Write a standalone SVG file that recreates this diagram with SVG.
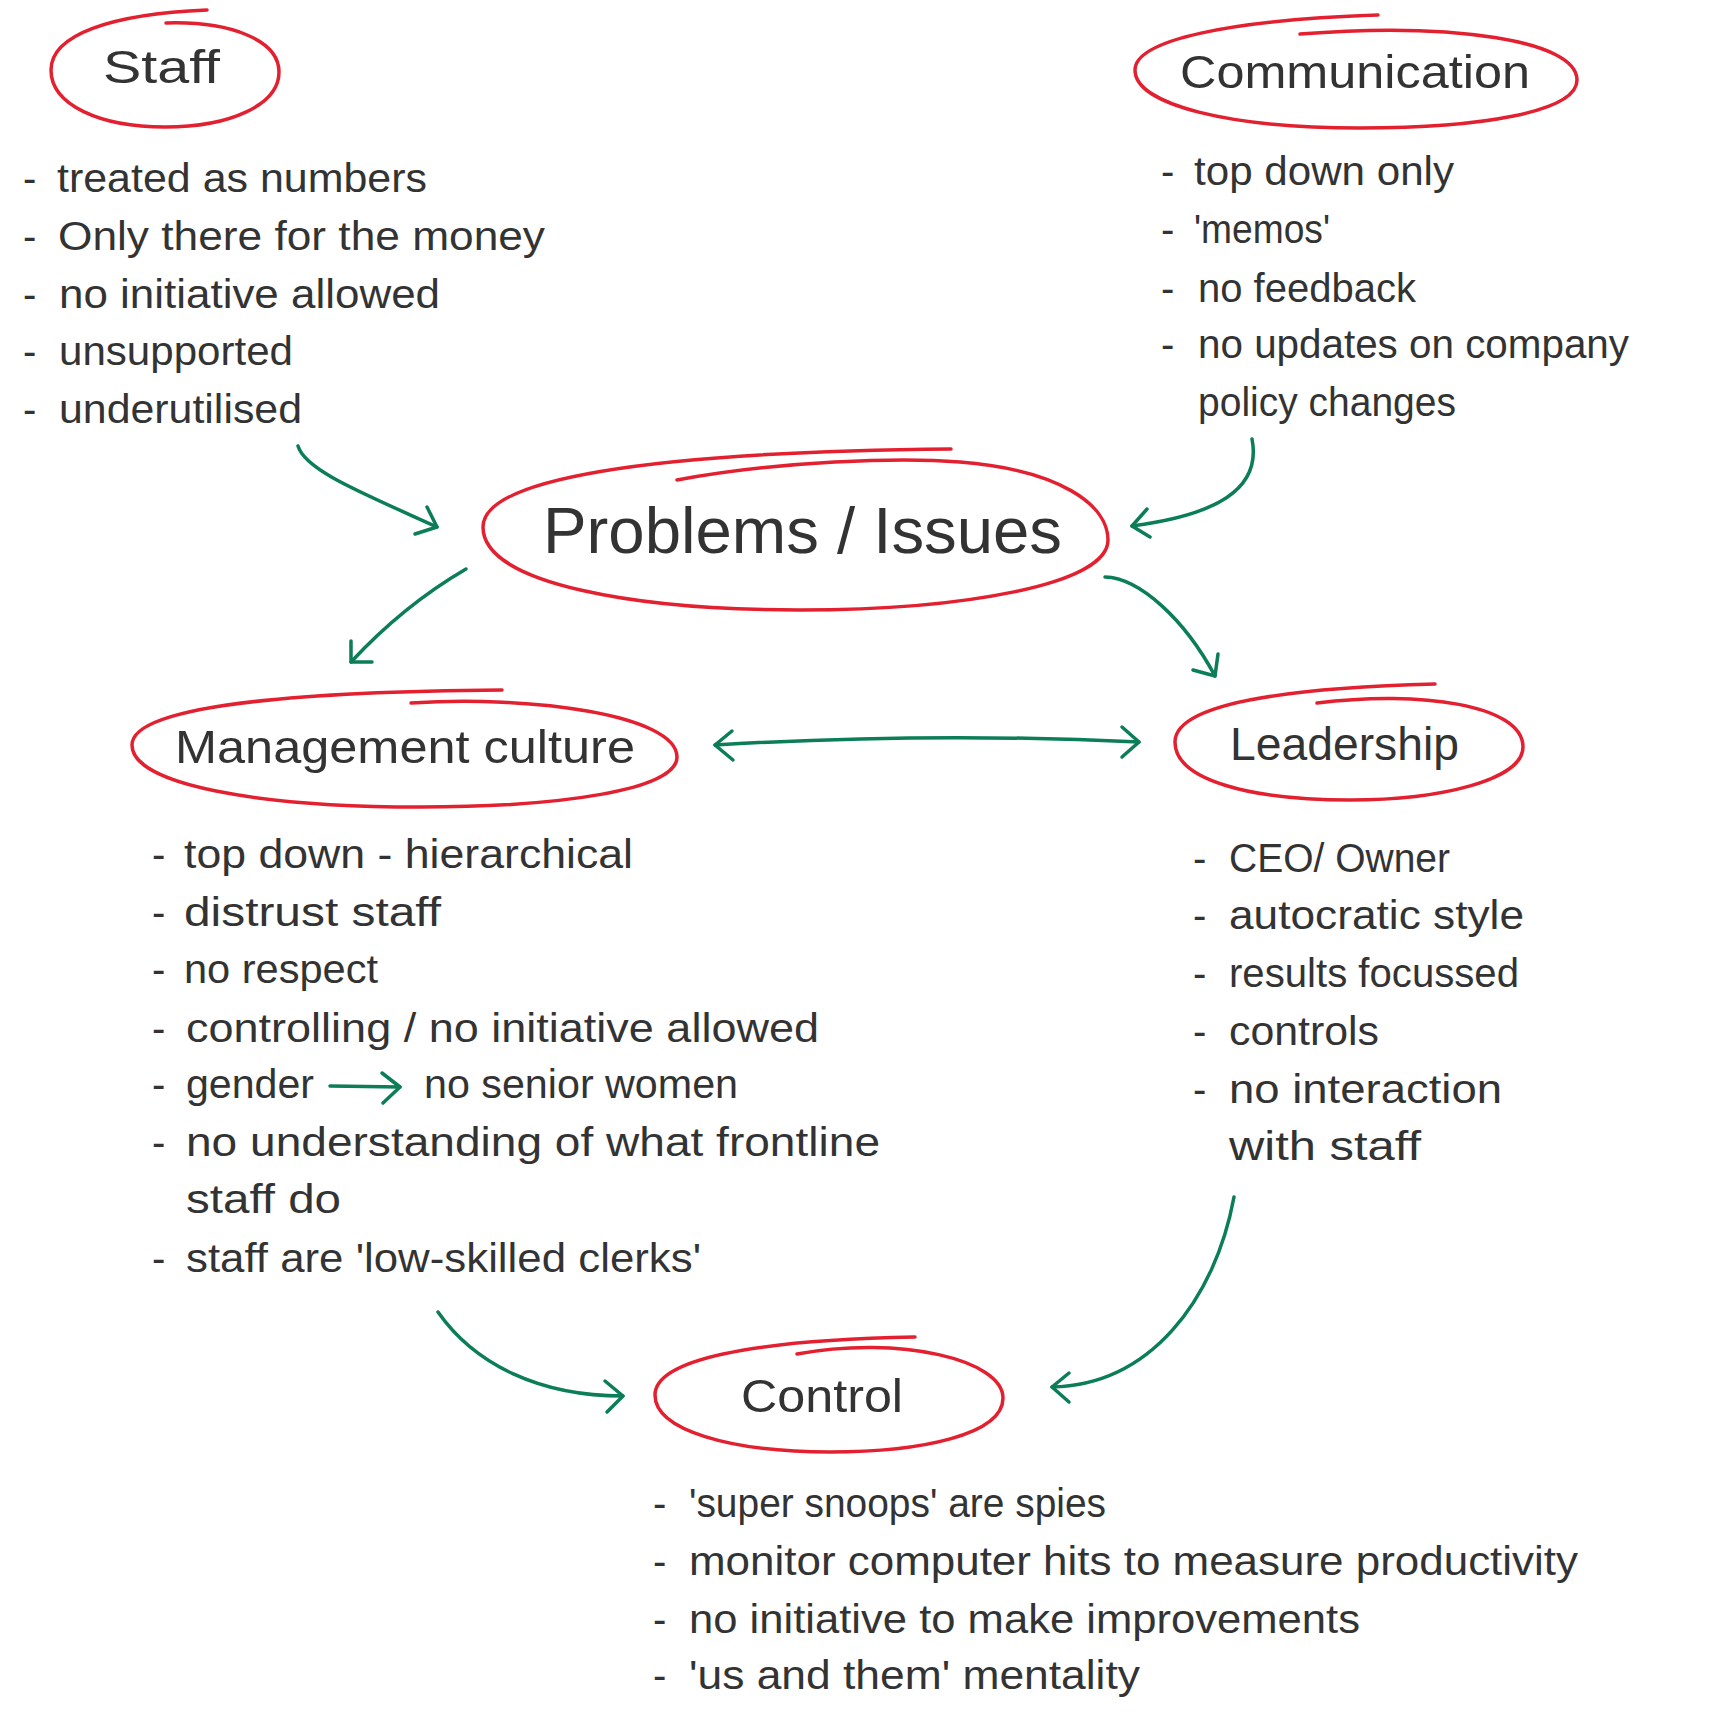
<svg xmlns="http://www.w3.org/2000/svg" width="1728" height="1736" viewBox="0 0 1728 1736">
<style>
.bg{fill:#ffffff}
.ring{fill:none;stroke:#e3202f;stroke-width:3.5;stroke-linecap:round;stroke-linejoin:round}
.arr{fill:none;stroke:#0b7d57;stroke-width:3.5;stroke-linecap:round;stroke-linejoin:round}
text{font-family:"Liberation Sans","Noto Sans",sans-serif;fill:#333333}
.h{font-size:46px}
.hb{font-size:64px}
.t{font-size:40px}
</style>
<rect class="bg" x="0" y="0" width="1728" height="1736"/>

<g id="node-staff">
<path class="ring" d="M166 23 C230 21 279 40 279 72 C279 105 230 127 165 127 C100 127 51 105 51 70 C51 35 110 14 207 10"/>
<text class="h" x="103" y="83" font-size="44" textLength="117" lengthAdjust="spacingAndGlyphs">Staff</text>
<text class="t" x="23" y="192">-</text><text class="t" x="57" y="192" textLength="370" lengthAdjust="spacingAndGlyphs">treated as numbers</text>
<text class="t" x="23" y="250">-</text><text class="t" x="58" y="250" textLength="487" lengthAdjust="spacingAndGlyphs">Only there for the money</text>
<text class="t" x="23" y="308">-</text><text class="t" x="59" y="308" textLength="381" lengthAdjust="spacingAndGlyphs">no initiative allowed</text>
<text class="t" x="23" y="365">-</text><text class="t" x="59" y="365" textLength="234" lengthAdjust="spacingAndGlyphs">unsupported</text>
<text class="t" x="23" y="423">-</text><text class="t" x="59" y="423" textLength="243" lengthAdjust="spacingAndGlyphs">underutilised</text>
</g>

<g id="node-communication">
<path class="ring" d="M1300 34 C1450 22 1577 40 1577 80 C1577 112 1480 128 1360 128 C1230 128 1135 105 1135 70 C1135 40 1230 20 1378 15"/>
<text class="h" x="1180" y="88" textLength="350" lengthAdjust="spacingAndGlyphs">Communication</text>
<text class="t" x="1161" y="185">-</text><text class="t" x="1194" y="185" textLength="260" lengthAdjust="spacingAndGlyphs">top down only</text>
<text class="t" x="1161" y="243">-</text><text class="t" x="1194" y="243" textLength="136" lengthAdjust="spacingAndGlyphs">'memos'</text>
<text class="t" x="1161" y="302">-</text><text class="t" x="1198" y="302" textLength="218" lengthAdjust="spacingAndGlyphs">no feedback</text>
<text class="t" x="1161" y="358">-</text><text class="t" x="1198" y="358" textLength="431" lengthAdjust="spacingAndGlyphs">no updates on company</text>
<text class="t" x="1198" y="416" textLength="258" lengthAdjust="spacingAndGlyphs">policy changes</text>
</g>

<g id="node-problems">
<path class="ring" d="M677 480 C780 461 900 457 960 462 C1060 470 1108 505 1108 540 C1108 585 960 610 800 610 C640 610 483 585 483 527 C483 480 640 452 951 449"/>
<text class="hb" x="543" y="553" textLength="519" lengthAdjust="spacingAndGlyphs">Problems / Issues</text>
</g>

<g id="node-management">
<path class="ring" d="M411 703 C530 695 677 715 677 757 C677 790 560 807 420 807 C260 807 132 785 132 745 C132 712 250 692 502 690"/>
<text class="h" x="175" y="763" textLength="460" lengthAdjust="spacingAndGlyphs">Management culture</text>
<text class="t" x="152" y="868">-</text><text class="t" x="184" y="868" textLength="449" lengthAdjust="spacingAndGlyphs">top down - hierarchical</text>
<text class="t" x="152" y="926">-</text><text class="t" x="184" y="926" textLength="257" lengthAdjust="spacingAndGlyphs">distrust staff</text>
<text class="t" x="152" y="983">-</text><text class="t" x="184" y="983" textLength="194" lengthAdjust="spacingAndGlyphs">no respect</text>
<text class="t" x="152" y="1042">-</text><text class="t" x="186" y="1042" textLength="633" lengthAdjust="spacingAndGlyphs">controlling / no initiative allowed</text>
<text class="t" x="152" y="1098">-</text><text class="t" x="186" y="1098" textLength="128" lengthAdjust="spacingAndGlyphs">gender</text>
<text class="t" x="424" y="1098" textLength="314" lengthAdjust="spacingAndGlyphs">no senior women</text>
<text class="t" x="152" y="1156">-</text><text class="t" x="186" y="1156" textLength="694" lengthAdjust="spacingAndGlyphs">no understanding of what frontline</text>
<text class="t" x="186" y="1213" textLength="155" lengthAdjust="spacingAndGlyphs">staff do</text>
<text class="t" x="152" y="1272">-</text><text class="t" x="186" y="1272" textLength="515" lengthAdjust="spacingAndGlyphs">staff are 'low-skilled clerks'</text>
</g>

<g id="node-leadership">
<path class="ring" d="M1317 703 C1420 690 1523 705 1523 747 C1523 780 1440 800 1350 800 C1250 800 1175 780 1175 742 C1175 705 1280 688 1435 684"/>
<text class="h" x="1230" y="760" textLength="229" lengthAdjust="spacingAndGlyphs">Leadership</text>
<text class="t" x="1193" y="872">-</text><text class="t" x="1229" y="872" textLength="221" lengthAdjust="spacingAndGlyphs">CEO/ Owner</text>
<text class="t" x="1193" y="929">-</text><text class="t" x="1229" y="929" textLength="295" lengthAdjust="spacingAndGlyphs">autocratic style</text>
<text class="t" x="1193" y="987">-</text><text class="t" x="1229" y="987" textLength="290" lengthAdjust="spacingAndGlyphs">results focussed</text>
<text class="t" x="1193" y="1045">-</text><text class="t" x="1229" y="1045" textLength="150" lengthAdjust="spacingAndGlyphs">controls</text>
<text class="t" x="1193" y="1103">-</text><text class="t" x="1229" y="1103" textLength="273" lengthAdjust="spacingAndGlyphs">no interaction</text>
<text class="t" x="1229" y="1160" textLength="192" lengthAdjust="spacingAndGlyphs">with staff</text>
</g>

<g id="node-control">
<path class="ring" d="M797 1354 C900 1335 1003 1360 1003 1398 C1003 1435 920 1452 830 1452 C730 1452 655 1430 655 1395 C655 1360 750 1340 915 1337"/>
<text class="h" x="741" y="1412" textLength="162" lengthAdjust="spacingAndGlyphs">Control</text>
<text class="t" x="653" y="1517">-</text><text class="t" x="689" y="1517" textLength="417" lengthAdjust="spacingAndGlyphs">'super snoops' are spies</text>
<text class="t" x="653" y="1575">-</text><text class="t" x="689" y="1575" textLength="889" lengthAdjust="spacingAndGlyphs">monitor computer hits to measure productivity</text>
<text class="t" x="653" y="1633">-</text><text class="t" x="689" y="1633" textLength="671" lengthAdjust="spacingAndGlyphs">no initiative to make improvements</text>
<text class="t" x="653" y="1689">-</text><text class="t" x="689" y="1689" textLength="451" lengthAdjust="spacingAndGlyphs">'us and them' mentality</text>
</g>

<g id="connectors">
<path class="arr" d="M298 446 C305 470 360 492 437 527"/>
<polyline class="arr" points="427,507 437,527 415,534"/>
<path class="arr" d="M1252 439 C1262 490 1215 515 1132 526"/>
<polyline class="arr" points="1147,509 1132,526 1150,537"/>
<path class="arr" d="M466 569 C430 590 390 620 351 662"/>
<polyline class="arr" points="351,641 351,662 372,662"/>
<path class="arr" d="M1105 577 C1140 578 1185 620 1215 676"/>
<polyline class="arr" points="1218,654 1215,676 1193,670"/>
<path class="arr" d="M715 745 Q933 732 1139 742"/>
<polyline class="arr" points="732,731 715,745 733,760"/>
<polyline class="arr" points="1122,727 1139,742 1122,757"/>
<path class="arr" d="M330 1086 L400 1087"/>
<polyline class="arr" points="382,1073 400,1087 383,1103"/>
<path class="arr" d="M438 1312 C475 1365 540 1396 623 1396"/>
<polyline class="arr" points="605,1381 623,1396 607,1412"/>
<path class="arr" d="M1234 1197 C1215 1300 1150 1385 1052 1387"/>
<polyline class="arr" points="1069,1373 1052,1387 1069,1402"/>
</g>
</svg>
